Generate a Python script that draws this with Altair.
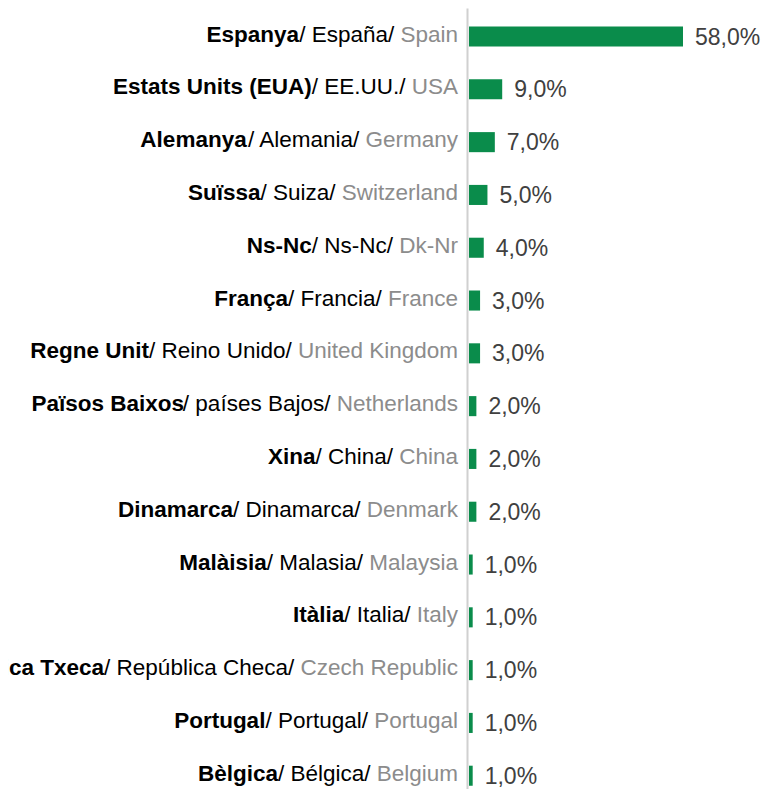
import unicodedata
import altair as alt
import pandas as pd

# ---- data ----
cat_ca = ["Espanya", "Estats Units (EUA)", "Alemanya", "Suïssa", "Ns-Nc", "França",
          "Regne Unit", "Països Baixos", "Xina", "Dinamarca", "Malàisia", "Itàlia",
          "República Txeca", "Portugal", "Bèlgica"]
cat_es = ["España", "EE.UU.", "Alemania", "Suiza", "Ns-Nc", "Francia", "Reino Unido",
          "países Bajos", "China", "Dinamarca", "Malasia", "Italia", "República Checa",
          "Portugal", "Bélgica"]
cat_en = ["Spain", "USA", "Germany", "Switzerland", "Dk-Nr", "France", "United Kingdom",
          "Netherlands", "China", "Denmark", "Malaysia", "Italy", "Czech Republic",
          "Portugal", "Belgium"]
values = [58, 9, 7, 5, 4, 3, 3, 2, 2, 2, 1, 1, 1, 1, 1]

# ---- styling ----
FONT = "Liberation Sans"
LABEL_SIZE = 22.5
VALUE_SIZE = 23
GREEN = "#0A8C4B"
GAP = 11  # px between labels and the axis

# Arial / Liberation Sans advance widths (units per 1000) for rich-text layout
_REG_U = dict(zip("ABCDEFGHIJKLMNOPQRSTUVWXYZ",
                  [667, 667, 722, 722, 667, 611, 778, 722, 278, 500, 667, 556, 833, 722, 778,
                   667, 778, 722, 667, 611, 722, 667, 944, 667, 667, 611]))
_REG_L = dict(zip("abcdefghijklmnopqrstuvwxyz",
                  [556, 556, 500, 556, 556, 278, 556, 556, 222, 222, 500, 222, 833, 556, 556,
                   556, 556, 333, 500, 278, 556, 500, 722, 500, 500, 500]))
_BLD_U = dict(zip("ABCDEFGHIJKLMNOPQRSTUVWXYZ",
                  [722, 722, 722, 722, 667, 611, 778, 722, 278, 556, 722, 611, 833, 722, 778,
                   667, 778, 722, 667, 611, 722, 667, 944, 667, 667, 611]))
_BLD_L = dict(zip("abcdefghijklmnopqrstuvwxyz",
                  [556, 611, 556, 611, 556, 333, 611, 611, 278, 278, 556, 278, 889, 611, 611,
                   611, 611, 389, 556, 333, 611, 556, 778, 556, 556, 500]))
_PUNCT = {" ": 278, "(": 333, ")": 333, "-": 333, ".": 278, "/": 278, ",": 278}


def text_width(s, size, bold=False):
    up, lo = (_BLD_U, _BLD_L) if bold else (_REG_U, _REG_L)
    total = 0
    for ch in s:
        base = unicodedata.normalize("NFD", ch)[0]
        total += up.get(base) or lo.get(base) or _PUNCT.get(base, 556)
    return total * size / 1000.0


rows = []
for ca, es, en, v in zip(cat_ca, cat_es, cat_en, values):
    mid = "/ " + es + "/"
    w_en = text_width(en, LABEL_SIZE)
    w_sp = text_width(" ", LABEL_SIZE)
    w_mid = text_width(mid, LABEL_SIZE)
    x_en = -GAP
    x_mid = x_en - w_en - w_sp
    x_ca = x_mid - w_mid
    rows.append(dict(ca=ca, mid=mid, en=en, v=v,
                     vl=f"{v:.1f}".replace(".", ",") + "%",
                     x_en=x_en, x_mid=x_mid, x_ca=x_ca))
df = pd.DataFrame(rows)

y_enc = alt.Y("ca:N", sort=cat_ca, title=None,
              scale=alt.Scale(paddingInner=0.62, paddingOuter=0.206, align=0.851),
              axis=alt.Axis(labels=False, ticks=False, domain=True, domainColor="#D0D0D0",
                            domainWidth=2, offset=2, grid=False, title=None))

base = alt.Chart(df)

bars = base.mark_bar(color=GREEN).encode(
    x=alt.X("v:Q", scale=alt.Scale(domain=[0, 58], nice=False, zero=True), axis=None),
    y=y_enc,
)

vals = base.mark_text(align="left", baseline="middle", dx=12, dy=1, font=FONT,
                      fontSize=VALUE_SIZE, color="#404040").encode(
    x="v:Q", y=y_enc, text="vl:N")

lab_en = base.mark_text(align="right", baseline="middle", dy=-2, font=FONT,
                        fontSize=LABEL_SIZE, color="#8C8C8C").encode(
    x=alt.X("x_en:Q", scale=None, axis=None), y=y_enc, text="en:N")
lab_mid = base.mark_text(align="right", baseline="middle", dy=-2, font=FONT,
                         fontSize=LABEL_SIZE, color="#000000").encode(
    x=alt.X("x_mid:Q", scale=None, axis=None), y=y_enc, text="mid:N")
lab_ca = base.mark_text(align="right", baseline="middle", dy=-2, font=FONT,
                        fontSize=LABEL_SIZE, fontWeight="bold", color="#000000").encode(
    x=alt.X("x_ca:Q", scale=None, axis=None), y=y_enc, text="ca:N")

chart = alt.layer(bars, vals, lab_en, lab_mid, lab_ca).properties(
    width=214, height=781,
    background="white",
    autosize=alt.AutoSizeParams(type="none"),
    padding={"left": 461, "top": 0, "right": 78, "bottom": 0},
).configure_view(stroke=None)

chart.save("out.html", embed_options={"renderer": "svg", "actions": False})
